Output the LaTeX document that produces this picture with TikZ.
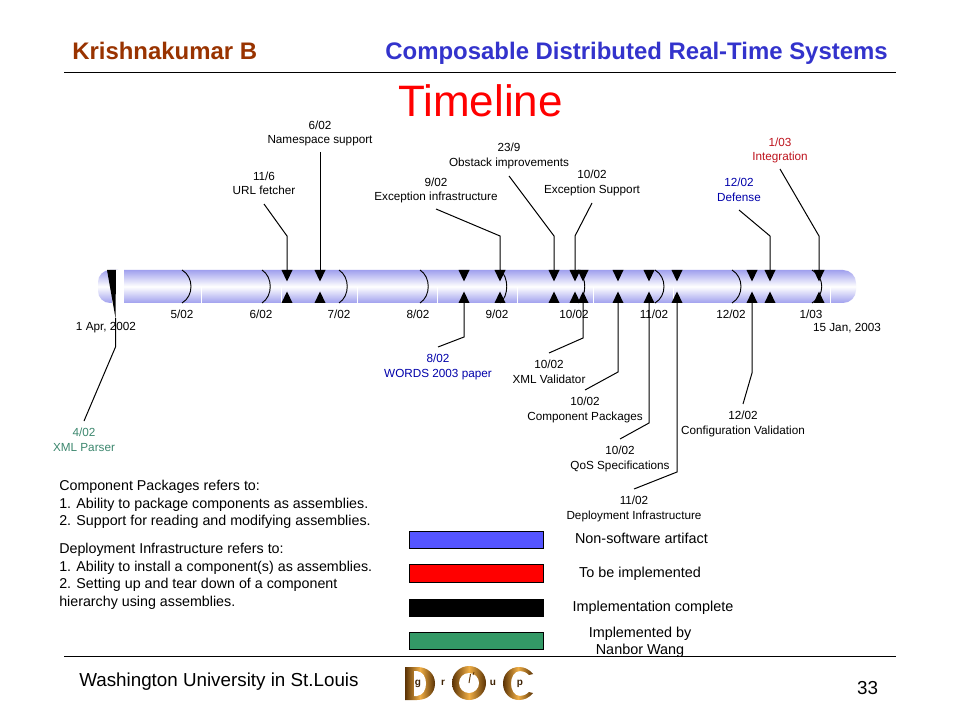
\documentclass[tikz,border=0pt]{standalone}
\usepackage{fontspec}
\setmainfont{Liberation Sans}
\usetikzlibrary{calc}
\definecolor{hdrbrown}{RGB}{153,51,0}
\definecolor{hdrblue}{RGB}{51,51,204}
\definecolor{tube}{RGB}{160,160,238}
\definecolor{artblue}{RGB}{85,85,255}
\definecolor{artgreen}{RGB}{51,153,102}
\definecolor{lblgreen}{RGB}{60,135,110}
\definecolor{lblblue}{RGB}{0,0,170}
\definecolor{lblred}{RGB}{190,20,30}
\definecolor{goldA}{RGB}{90,50,5}
\definecolor{goldB}{RGB}{240,175,70}
\tikzset{
  lbl/.style={inner xsep=0pt,inner ysep=5pt,align=center,font=\fontsize{8.8}{11.2}\selectfont},
  month/.style={inner sep=0pt,font=\fontsize{8.8}{11.2}\selectfont},
  conn/.style={draw=black,line width=0.75pt},
  legendbox/.style={draw=black,line width=0.9pt,minimum width=100.5pt,minimum height=13pt,inner sep=0pt},
  legendtxt/.style={inner sep=0pt,align=center,font=\fontsize{10.8}{12.8}\selectfont},
  notes/.style={inner sep=0pt,anchor=north west,align=left,font=\fontsize{10.7}{13.2}\selectfont},
  tubepart/.style={top color=tube,bottom color=tube,middle color=white},
  arcmark/.style={draw=black,line width=0.7pt},
  seam/.style={draw=white,line width=0.7pt},
  gold/.style={left color=goldA,right color=goldA,middle color=goldB},
  logotxt/.style={inner sep=0pt,text=goldA!70!black,font=\fontsize{7.5}{8}\selectfont\bfseries},
  pics/tridown/.style={code={\fill[black] (-5.5,0)--(5.5,0)--(0,11.5)--cycle;}},
  pics/triup/.style={code={\fill[black] (-5.5,0)--(5.5,0)--(0,-11.5)--cycle;}}
}
\begin{document}
\begin{tikzpicture}[x=0.75pt,y=-0.75pt]
\useasboundingbox (0,0) rectangle (960,720);
\fill[white] (0,0) rectangle (960,720);
% header
\node[inner sep=0pt,anchor=base west,text=hdrbrown,font=\fontsize{17.95}{20}\selectfont\bfseries] (author) at (72,60) {Krishnakumar B};
\node[inner sep=0pt,anchor=base east,text=hdrblue,font=\fontsize{17.95}{20}\selectfont\bfseries] (course) at (888,60) {Composable Distributed Real-Time Systems};
\draw[line width=0.9pt] (64,72.5) -- (896,72.5);
\node[inner sep=0pt,text=red,font=\fontsize{33}{38}\selectfont] (title) at (480.5,101) {Timeline};
% tube
\shade[tubepart] (110,270) arc[start angle=-90,end angle=-180,radius=12] -- (98,291) arc[start angle=180,end angle=90,radius=12] -- (118,303) -- (118,270) -- cycle;
\fill[white] (112,270) rectangle (124,303);
\shade[tubepart] (124,270) -- (843,270) arc[start angle=-90,end angle=0,radius=13] -- (856,290) arc[start angle=0,end angle=90,radius=13] -- (124,303) -- cycle;
\foreach \x in {201,281,357,437,517,593,673,830}
  \draw[seam] (\x,287) -- (\x,303);
\foreach \x/\b in {182/191,262/270,339/347,420/428,500/506,578/584,655/664,732/741,812/822}
  \draw[arcmark] (\x,270) .. controls (\b+3,277) and (\b+3,296) .. (\x,303);
% start wedge
\fill[black] (107,270) -- (116,270) -- (115.5,318) -- cycle;
% markers
\foreach \x in {287,320,464,500,554,575,583,618,649,677,752,770,819}{
  \coordinate (top\x) at (\x,270);
  \coordinate (bot\x) at (\x,303);
  \pic at (top\x) {tridown};
  \pic at (bot\x) {triup};
}
\coordinate (startmark) at (115.5,318);
% month labels
\node[month] (m5) at (182,314.5) {5/02};
\node[month] (m6) at (261,314.5) {6/02};
\node[month] (m7) at (339,314.5) {7/02};
\node[month] (m8) at (418,314.5) {8/02};
\node[month] (m9) at (497,314.5) {9/02};
\node[month] (m10) at (574,314.5) {10/02};
\node[month] (m11) at (654,314.5) {11/02};
\node[month] (m12) at (731,314.5) {12/02};
\node[month] (m1) at (811,314.5) {1/03};
\node[month] (startdate) at (106,328) {1 Apr, 2002};
\node[month] (enddate) at (847,328) {15 Jan, 2003};
% upper labels
\node[lbl,anchor=south,font=\fontsize{8.8}{10.2}\selectfont,inner ysep=7.2pt] (url) at (264,204) {11/6\\URL fetcher};
\node[lbl,anchor=south,inner ysep=4pt] (ns) at (320,152) {6/02\\Namespace support};
\node[lbl,anchor=south,inner ysep=4pt] (exinf) at (436,209) {9/02\\Exception infrastructure};
\node[lbl,anchor=south] (obst) at (509,176) {23/9\\Obstack improvements};
\node[lbl,anchor=south] (exsup) at (592,203) {10/02\\Exception Support};
\node[lbl,anchor=south,text=lblblue,inner ysep=6.4pt] (defense) at (739,210) {12/02\\Defense};
\node[lbl,anchor=south,text=lblred,inner ysep=4pt] (integ) at (780,169) {1/03\\Integration};
% lower labels
\node[lbl,anchor=north,text=lblgreen] (xmlp) at (84,421) {4/02\\XML Parser};
\node[lbl,anchor=north,text=lblblue] (words) at (438,347) {8/02\\WORDS 2003 paper};
\node[lbl,anchor=north] (xmlv) at (549,353) {10/02\\XML Validator};
\node[lbl,anchor=north] (cpk) at (585,390) {10/02\\Component Packages};
\node[lbl,anchor=north] (qos) at (620,439) {10/02\\QoS Specifications};
\node[lbl,anchor=north] (depl) at (634,489) {11/02\\Deployment Infrastructure};
\node[lbl,anchor=north] (conf) at (743,404) {12/02\\Configuration Validation};
% connectors
\coordinate (b1) at (287,236); \coordinate (b3) at (500,236); \coordinate (b4) at (554,236);
\coordinate (b5) at (575,236); \coordinate (b6) at (770,236); \coordinate (b7) at (819,236);
\draw[conn] (url.south) -- (b1) -- (top287);
\draw[conn] (ns.south) -- (top320);
\draw[conn] (exinf.south) -- (b3) -- (top500);
\draw[conn] (obst.south) -- (b4) -- (top554);
\draw[conn] (exsup.south) -- (b5) -- (top575);
\draw[conn] (defense.south) -- (b6) -- (top770);
\draw[conn] (integ.south) -- (b7) -- (top819);
\coordinate (c0) at (115.5,347); \coordinate (c1) at (464,337); \coordinate (c2) at (583,338);
\coordinate (c3) at (618,372); \coordinate (c4) at (649,423); \coordinate (c5) at (677,472); \coordinate (c6) at (752,373);
\draw[conn] (startmark) -- (c0) -- (xmlp.north);
\draw[conn] (bot464) -- (c1) -- (words.north);
\draw[conn] (bot583) -- (c2) -- (xmlv.north);
\draw[conn] (bot618) -- (c3) -- (cpk.north);
\draw[conn] (bot649) -- (c4) -- (qos.north);
\draw[conn] (bot677) -- (c5) -- (depl.north);
\draw[conn] (bot752) -- (c6) -- (conf.north);
% notes
\node[notes] (note1) at (59,480) {Component Packages refers to:\\1. Ability to package components as assemblies.\\2. Support for reading and modifying assemblies.};
\node[notes] (note2) at (59,543) {Deployment Infrastructure refers to:\\1. Ability to install a component(s) as assemblies.\\2. Setting up and tear down of a component\\hierarchy using assemblies.};
% legend
\node[legendbox,fill=artblue] (lg1) at (476.5,540) {};
\node[legendbox,fill=red] (lg2) at (476.5,573.5) {};
\node[legendbox,fill=black] (lg3) at (476.5,608) {};
\node[legendbox,fill=artgreen] (lg4) at (476.5,641) {};
\node[legendtxt] (lt1) at (641.5,538) {Non-software artifact};
\node[legendtxt] (lt2) at (640,574) {To be implemented};
\node[legendtxt] (lt3) at (653,608) {Implementation complete};
\node[legendtxt] (lt4) at (640,642) {Implemented by\\Nanbor Wang};
% footer
\draw[line width=0.9pt] (64,656.5) -- (896,656.5);
\node[inner sep=0pt,anchor=west,font=\fontsize{14.1}{16}\selectfont] (univ) at (79,681.5) {Washington University in St.Louis};
\node[inner sep=0pt,font=\fontsize{14.1}{16}\selectfont] (page) at (867.5,688) {33};
% logo
\shade[gold] (405,667) -- (417,667) .. controls (428,667) and (435,674) .. (435,683.5) .. controls (435,693) and (428,700) .. (417,700) -- (405,700) -- cycle;
\fill[white] (414,671) -- (417,671) .. controls (423,672) and (426,677) .. (426,683.5) .. controls (426,690) and (423,695) .. (417,696) -- (414,696) -- cycle;
\shade[gold] (452,683) arc[start angle=180,end angle=540,radius=17];
\fill[white] (469,683) circle[radius=10];
\draw[goldA,line width=0.7pt] (469,683) -- (470.5,674);
\draw[goldA,line width=0.6pt] (474,672) -- (473,675);
\shade[gold] (533,674) .. controls (529,669) and (524,667) .. (519,667) .. controls (510,667) and (503,674) .. (503,683.5) .. controls (503,693) and (510,700) .. (519,700) .. controls (524,700) and (529,698) .. (533,693) -- (529,692) .. controls (526,695) and (523,696) .. (520,696) .. controls (514,696) and (511,690) .. (511,683.5) .. controls (511,677) and (514,671) .. (520,671) .. controls (523,671) and (526,672) .. (529,675) -- cycle;
\node[logotxt] (lgg) at (418,684) {g};
\node[logotxt] (lgr) at (443,683) {r};
\node[logotxt] (lgu) at (493,683) {u};
\node[logotxt] (lgp) at (520,684) {p};
\end{tikzpicture}
\end{document}
